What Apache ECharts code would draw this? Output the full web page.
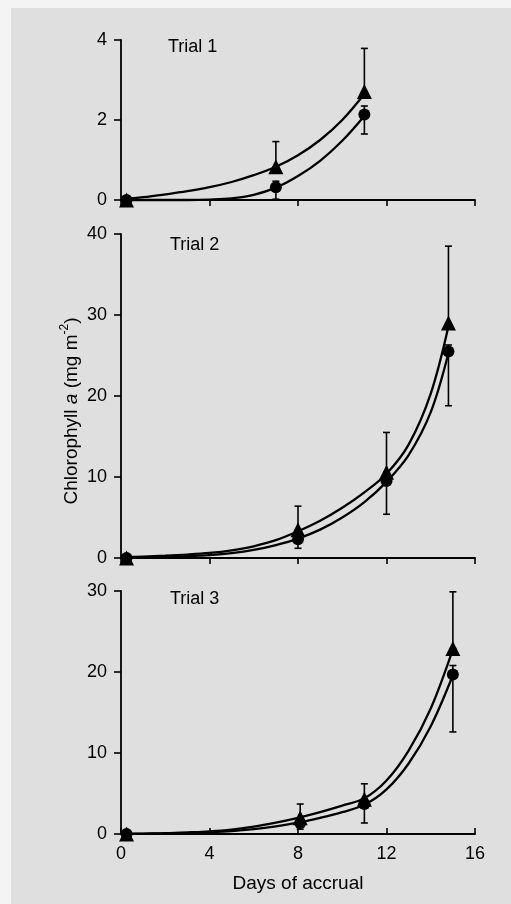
<!DOCTYPE html>
<html>
<head>
<meta charset="utf-8">
<script src="https://cdn.jsdelivr.net/npm/echarts@6/dist/echarts.min.js"></script>
<style>
  html, body { margin: 0; padding: 0; background: #f4f4f4; }
  #wrap { position: relative; width: 511px; height: 904px; }
  #bg { position: absolute; left: 11px; top: 8px; right: 0; bottom: 0; background: #dfdfdf; }
  #chart { position: absolute; left: 0; top: 0; width: 511px; height: 904px; }
</style>
</head>
<body>
<div id="wrap"><div id="bg"></div><div id="chart"></div></div>
<script>
// ---------- Data ----------
const xTicks = [0, 4, 8, 12, 16];
const panelTitles = ['Trial 1', 'Trial 2', 'Trial 3'];
const yMax = [4, 40, 30];
const yStep = [2, 10, 10];

// Trial 1 measured points
const days1 = [0.25, 7, 11];
const tri1 = [0, 0.83, 2.71];
const triHi1 = [0, 1.46, 3.79];
const cir1 = [0, 0.32, 2.14];
const cirLo1 = [0, 0.02, 1.65];
const cirHi1 = [0, 0.47, 2.35];
// Trial 1 fitted curves
const fitDays1 = [0, 1, 2, 3, 4, 5, 6, 7, 8, 9, 10, 11];
const triFit1 = [0.02, 0.07, 0.14, 0.22, 0.32, 0.45, 0.62, 0.83, 1.12, 1.5, 2.0, 2.65];
const cirFit1 = [0, 0, 0, 0, 0.01, 0.04, 0.13, 0.31, 0.6, 0.98, 1.48, 2.1];

// Trial 2 measured points
const days2 = [0.25, 8, 12, 14.8];
const tri2 = [0, 3.5, 10.6, 29.0];
const triHi2 = [0, 6.4, 15.5, 38.5];
const cir2 = [0, 2.3, 9.5, 25.5];
const cirLo2 = [0, 1.2, 5.4, 18.8];
const cirHi2 = [0, 3.3, 10.6, 26.3];
// Trial 2 fitted curves
const fitDays2 = [0, 1, 2, 3, 4, 5, 6, 7, 8, 9, 10, 11, 12, 13, 14, 14.8];
const triFit2 = [0.1, 0.18, 0.28, 0.42, 0.62, 0.95, 1.45, 2.2, 3.3, 4.6, 6.2, 8.1, 10.4, 14.0, 20.3, 28.6];
const cirFit2 = [0, 0.04, 0.1, 0.2, 0.35, 0.6, 1.0, 1.6, 2.4, 3.5, 5.0, 6.9, 9.4, 12.7, 18.0, 25.3];

// Trial 3 measured points
const days3 = [0.25, 8.1, 11, 15];
const tri3 = [0, 2.0, 4.3, 22.9];
const triHi3 = [0, 3.7, 6.2, 29.9];
const cir3 = [0, 1.36, 3.7, 19.7];
const cirLo3 = [0, 0.6, 1.36, 12.6];
const cirHi3 = [0, 1.9, 4.3, 20.8];
// Trial 3 fitted curves
const fitDays3 = [0, 1, 2, 3, 4, 5, 6, 7, 8, 9, 10, 11, 12, 13, 14, 15];
const triFit3 = [0, 0.05, 0.1, 0.2, 0.33, 0.55, 0.9, 1.4, 2.0, 2.7, 3.5, 4.4, 6.6, 10.3, 15.5, 22.8];
const cirFit3 = [0, 0.02, 0.05, 0.1, 0.2, 0.35, 0.6, 0.95, 1.4, 2.0, 2.7, 3.6, 5.5, 8.7, 13.3, 19.6];

// ---------- Build ----------
const FONT = 'Liberation Sans';
const INK = '#000000';
const panels = [
  { days: days1, tri: tri1, triHi: triHi1, cir: cir1, cirLo: cirLo1, cirHi: cirHi1, fx: fitDays1, tf: triFit1, cf: cirFit1 },
  { days: days2, tri: tri2, triHi: triHi2, cir: cir2, cirLo: cirLo2, cirHi: cirHi2, fx: fitDays2, tf: triFit2, cf: cirFit2 },
  { days: days3, tri: tri3, triHi: triHi3, cir: cir3, cirLo: cirLo3, cirHi: cirHi3, fx: fitDays3, tf: triFit3, cf: cirFit3 }
];
const grids = [
  { left: 121, width: 354, top: 40, height: 160 },
  { left: 121, width: 354, top: 234, height: 324 },
  { left: 121, width: 354, top: 591, height: 243 }
];

function errItem(params, api) {
  const x = api.value(0), lo = api.value(1), hi = api.value(2);
  const a = api.coord([x, lo]), b = api.coord([x, hi]);
  const w = 3.5;
  const st = { stroke: INK, lineWidth: 1.6 };
  return {
    type: 'group',
    children: [
      { type: 'line', shape: { x1: a[0], y1: a[1], x2: b[0], y2: b[1] }, style: st },
      { type: 'line', shape: { x1: b[0] - w, y1: b[1], x2: b[0] + w, y2: b[1] }, style: st },
      { type: 'line', shape: { x1: a[0] - w, y1: a[1], x2: a[0] + w, y2: a[1] }, style: st }
    ]
  };
}

const xAxes = [], yAxes = [], series = [];
panels.forEach((p, i) => {
  const last = i === 2;
  xAxes.push({
    gridIndex: i, type: 'value', min: 0, max: 16, interval: 4,
    axisLine: { show: true, lineStyle: { color: INK, width: 1.8 } },
    axisTick: { show: true, inside: last, length: 6, lineStyle: { color: INK, width: 1.6 } },
    axisLabel: { show: last, color: INK, fontFamily: FONT, fontSize: 18, margin: 11 },
    splitLine: { show: false },
    name: last ? 'Days of accrual' : '',
    nameLocation: 'middle', nameGap: 40,
    nameTextStyle: { color: INK, fontFamily: FONT, fontSize: 19 }
  });
  yAxes.push({
    gridIndex: i, type: 'value', min: 0, max: yMax[i], interval: yStep[i],
    axisLine: { show: true, lineStyle: { color: INK, width: 1.8 } },
    axisTick: { show: true, length: 7, lineStyle: { color: INK, width: 1.6 } },
    axisLabel: { color: INK, fontFamily: FONT, fontSize: 18, margin: 14 },
    splitLine: { show: false }
  });
  const lineStyle = { color: INK, width: 2.3 };
  series.push({
    type: 'line', xAxisIndex: i, yAxisIndex: i, smooth: 0.35,
    showSymbol: false, symbol: 'none', lineStyle, clip: false, silent: true, z: 3,
    data: p.fx.map((d, k) => [d, p.tf[k]])
  });
  series.push({
    type: 'line', xAxisIndex: i, yAxisIndex: i, smooth: 0.35,
    showSymbol: false, symbol: 'none', lineStyle, clip: false, silent: true, z: 3,
    data: p.fx.map((d, k) => [d, p.cf[k]])
  });
  series.push({
    type: 'custom', xAxisIndex: i, yAxisIndex: i, renderItem: errItem, clip: false, z: 4,
    data: p.days.map((d, k) => [d, p.tri[k], p.triHi[k]])
  });
  series.push({
    type: 'custom', xAxisIndex: i, yAxisIndex: i, renderItem: errItem, clip: false, z: 4,
    data: p.days.map((d, k) => [d, p.cirLo[k], p.cirHi[k]])
  });
  series.push({
    type: 'scatter', xAxisIndex: i, yAxisIndex: i, symbol: 'circle', symbolSize: 12, clip: false, z: 5,
    itemStyle: { color: INK, opacity: 1 },
    data: p.days.map((d, k) => [d, p.cir[k]])
  });
  series.push({
    type: 'scatter', xAxisIndex: i, yAxisIndex: i, symbol: 'triangle', symbolSize: 15, clip: false, z: 6,
    itemStyle: { color: INK, opacity: 1 },
    data: p.days.map((d, k) => [d, p.tri[k]])
  });
});

const titlePos = [[168, 47], [170, 245], [170, 599]];
const graphics = panelTitles.map((t, i) => ({
  type: 'text', x: titlePos[i][0], y: titlePos[i][1],
  style: { text: t, fill: INK, font: '18px "' + FONT + '"', textAlign: 'left', textVerticalAlign: 'middle' }
}));
graphics.push({
  type: 'text', x: 70, y: 411, rotation: Math.PI / 2,
  style: {
    text: '{n|Chlorophyll }{i|a}{n| (mg m}{s|-2}{n|)}',
    align: 'center', verticalAlign: 'middle',
    rich: {
      n: { fontFamily: FONT, fontSize: 19, color: INK, lineHeight: 23, verticalAlign: 'bottom' },
      i: { fontFamily: FONT, fontSize: 19, fontStyle: 'italic', color: INK, lineHeight: 23, verticalAlign: 'bottom' },
      s: { fontFamily: FONT, fontSize: 12, color: INK, lineHeight: 23, verticalAlign: 'top' }
    }
  }
});

const chart = echarts.init(document.getElementById('chart'), null, { renderer: 'canvas' });
chart.setOption({
  animation: false,
  backgroundColor: 'transparent',
  grid: grids,
  xAxis: xAxes,
  yAxis: yAxes,
  series: series,
  graphic: graphics
});
</script>
</body>
</html>
